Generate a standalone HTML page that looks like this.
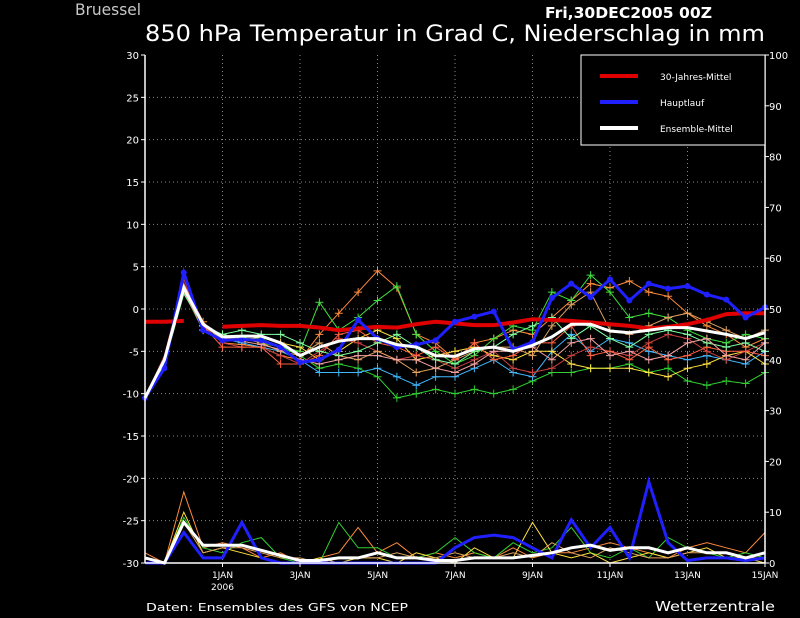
<!DOCTYPE html>
<html><head><meta charset="utf-8"><style>
html,body{margin:0;padding:0;background:#000;width:800px;height:618px;overflow:hidden}
svg{display:block}
text{font-family:"DejaVu Sans","Liberation Sans",sans-serif}
</style></head><body>
<svg id="c" width="800" height="618" xmlns="http://www.w3.org/2000/svg">
<text x="75" y="15" fill="#c8c8c8" font-size="16" textLength="66" lengthAdjust="spacingAndGlyphs">Bruessel</text>
<text x="545" y="18" fill="#fff" font-size="15" font-weight="bold" textLength="167" lengthAdjust="spacingAndGlyphs">Fri,30DEC2005 00Z</text>
<text x="145" y="41" fill="#fff" font-size="22" textLength="620" lengthAdjust="spacingAndGlyphs">850 hPa Temperatur in Grad C, Niederschlag in mm</text>
<text x="146" y="611" fill="#fff" font-size="11" textLength="262" lengthAdjust="spacingAndGlyphs">Daten: Ensembles des GFS von NCEP</text>
<text x="655" y="611" fill="#fff" font-size="13" textLength="120" lengthAdjust="spacingAndGlyphs">Wetterzentrale</text>
<g id="grid"></g><g id="series"></g><g id="axes"></g>
<g>
<rect x="581" y="55" width="184" height="90" fill="#000" stroke="#fff" stroke-width="1"/>
<line x1="600" y1="76" x2="638" y2="76" stroke="#e00000" stroke-width="4"/>
<text x="660" y="80" fill="#fff" font-size="9">30-Jahres-Mittel</text>
<line x1="600" y1="102" x2="638" y2="102" stroke="#2020ff" stroke-width="4"/>
<text x="660" y="106" fill="#fff" font-size="9">Hauptlauf</text>
<line x1="600" y1="128" x2="638" y2="128" stroke="#fff" stroke-width="4"/>
<text x="660" y="132" fill="#fff" font-size="9">Ensemble-Mittel</text>
</g>
</svg>
<script>
const tempTicks=[30,25,20,15,10,5,0,-5,-10,-15,-20,-25,-30];
const precipTicks=[0,10,20,30,40,50,60,70,80,90,100];
const dayLabels=["1JAN","3JAN","5JAN","7JAN","9JAN","11JAN","13JAN","15JAN"];
const climate=[-1.5,-1.5,-1.4,null,-2.1,-2.0,-1.9,-2.0,-2.0,-2.2,-2.5,-2.3,-2.1,-2.2,-1.8,-1.5,-1.7,-1.9,-1.9,-1.6,-1.2,-1.3,-1.4,-1.6,-1.8,-2.0,-2.3,-2.1,-1.8,-1.3,-0.6,-0.5,-0.5];
const mainRun=[-10.5,-7,4.3,-2.5,-3.7,-3.6,-3.7,-4.5,-6.3,-6,-4.8,-1.3,-3.5,-4.5,-4.2,-3.7,-1.5,-0.9,-0.3,-4.8,-3.9,1.3,3,1.4,3.5,1,3,2.4,2.7,1.7,1.1,-1,0.2];
const ensMean=[-10.5,-6,2.5,-1.8,-3.3,-3.2,-3.2,-4,-5.5,-4.5,-3.8,-3.5,-3.5,-4.2,-4.5,-5.5,-5.6,-4.7,-4.5,-5,-4.3,-3.3,-1.8,-1.8,-2.6,-2.8,-2.5,-2.2,-2.2,-2.6,-3.0,-3.5,-2.8];
const members=[
[-10.5,-6,3,-1.5,-4,-4.2,-4.5,-5.5,-6,-3,-0.5,2,4.5,2.5,-3,-4,-6,-4,-3.5,-2.5,-3,-1,1,3,2.5,3.3,2,1.5,-0.5,-2,-3,-4.5,-3.5],
[-10.5,-6,2.5,-2,-3,-3.5,-3.5,-4.5,-5,0.8,-2.5,-1,1,2.7,-3,-5,-6.5,-5.5,-3.5,-2,-2.5,2,1,4,2,-1,-0.5,-1,-2.5,-3.5,-4,-3,-3.5],
[-10.5,-6.5,2,-2.5,-3.5,-3.3,-4,-4.5,-5.5,-7,-6.5,-7,-8,-10.5,-10,-9.5,-10,-9.5,-10,-9.5,-8.5,-7.5,-7.5,-7,-7,-6.5,-7.5,-7,-8.5,-9,-8.5,-8.8,-7.5],
[-10.5,-6,2.8,-2,-3.5,-4,-4.5,-5,-6,-7.5,-7.5,-7.5,-7,-8,-9,-8,-8,-7,-6,-7.5,-8,-5,-3,-5,-3.5,-4,-5,-5.5,-6,-5.5,-6,-6.5,-5],
[-10.5,-6,2.3,-2,-3.3,-3.7,-3.3,-4,-4.5,-6,-5,-3.5,-2.5,-3.5,-6,-5.5,-5,-4.5,-5.5,-6,-5,-5,-6.5,-7,-7,-7,-7.5,-8,-7,-6.5,-5.5,-5,-6.5],
[-10.5,-5.5,3.5,-2,-4,-4.5,-4.5,-5.5,-6.5,-5,-3.5,-4,-5,-6,-5.5,-6,-7,-6,-5,-7,-7.5,-7,-5.5,-4.5,-5,-5.5,-4,-3,-3.5,-5,-6,-5,-4],
[-10.5,-6,2,-2,-3.5,-3.5,-4,-5,-5.5,-4,-5.5,-6,-5,-6,-7.5,-7,-6,-5,-4.5,-4.5,-5.5,-2,0.5,2,-2.5,-3,-2,-1,-0.5,-1.5,-2.5,-3.5,-2.5],
[-10.5,-6,2.6,-2,-4.5,-4.5,-4.5,-6.5,-6.5,-5.5,-3,-2.5,-4,-4.5,-5.5,-4.5,-6,-4,-6,-5.5,-4,-4,-2,-5.5,-5,-6,-4.5,-6,-5.5,-4.5,-5,-5,-5.5],
[-10.5,-6.5,1.8,-2,-3,-2.5,-3,-3,-4,-5,-5.5,-5,-4,-3,-4.5,-6,-6.5,-5,-4.5,-3,-2,-1,-3.5,-2,-3.5,-4.5,-3,-2.5,-3,-4,-4.5,-4,-5],
[-10.5,-6,2.2,-2.5,-3.5,-3.8,-4.2,-4.8,-6,-6.5,-6,-5.5,-5.5,-6,-6,-7,-7.5,-6.5,-5,-5,-4.5,-6,-4,-3.5,-5.5,-5,-6,-5.5,-4,-3.5,-5.5,-6,-4]];
const memberColors=["#ff8c3c","#40e040","#30d030","#40b8ff","#ffe040","#c84040","#e0a060","#ff6040","#80ffa0","#f0a0a0"];
const mainPrecip=[0,0,6,1,1,8,1,0,0,0,0,0,0,0,0,0,3,5,5.5,5,3,1,8.5,3,7,1,16,4,0.5,1,1,0.5,1];
const meanPrecip=[1,0,8,3.5,3.5,3.5,2.5,1.5,0.5,0.5,1,1,2,1,1,0.5,0.5,1,1,1,1.5,2,3,3.5,2.5,3,3,2,3,2,2,1,2];
const memberPrecip=[
[2,0,14,3,4,3,1,2,0,1,2,7,2,4,1,2,1,2,1,3,1,2,2,3,4,3,2,1,3,4,3,2,6],
[0,0,9,3,2,4,5,1,0,0,8,3,3,1,1,2,5,2,1,4,2,3,7,2,1,3,1,5,3,2,1,2,1],
[1,0,10,2,3,2,1,0,0,1,0,1,1,0,2,1,0,3,1,1,8,2,1,2,0,1,2,1,2,3,1,1,0],
[0,0,8,2,3,3,2,1,1,0,1,1,1,2,1,1,2,1,1,2,1,4,2,1,3,2,1,1,2,2,2,1,1]];
const X0=145,X1=765,Y0=55,Y1=563,N=32;
const xs=i=>X0+(X1-X0)*i/N;
const yT=v=>Y1-(v+30)/60*(Y1-Y0);
const yP=v=>Y1-v/100*(Y1-Y0);
const NS="http://www.w3.org/2000/svg";
function mk(p,tag,attrs){const e=document.createElementNS(NS,tag);for(const k in attrs)e.setAttribute(k,attrs[k]);p.appendChild(e);return e;}
const grid=document.getElementById('grid'),ser=document.getElementById('series'),ax=document.getElementById('axes');
tempTicks.forEach(t=>{const y=yT(t);
 if(t>-30&&t<30){const l=mk(grid,'line',{x1:X0,x2:X1,y1:y,y2:y,stroke:'#888','stroke-dasharray':'1,3'});}
 const tx=mk(ax,'text',{x:139,y:y+4,fill:'#fff','font-size':10,'text-anchor':'end'});tx.textContent=t;
 
 mk(ax,'line',{x1:X0-4,x2:X0,y1:y,y2:y,stroke:'#fff'});});
precipTicks.forEach(t=>{const y=yP(t);
 const tx=mk(ax,'text',{x:769,y:y+4,fill:'#fff','font-size':10});tx.textContent=t;
 
 mk(ax,'line',{x1:X1,x2:X1+4,y1:y,y2:y,stroke:'#fff'});});
dayLabels.forEach((d,k)=>{const x=xs(4+k*4);
 if(x<X1){const l=mk(grid,'line',{x1:x,x2:x,y1:Y0,y2:Y1,stroke:'#888','stroke-dasharray':'1,3'});}
 const tx=mk(ax,'text',{x:x,y:578,fill:'#fff','font-size':9,'text-anchor':'middle'});tx.textContent=d;
 
 mk(ax,'line',{x1:x,x2:x,y1:Y1,y2:Y1+4,stroke:'#fff'});});
const yr=mk(ax,'text',{x:xs(4),y:590,fill:'#fff','font-size':9,'text-anchor':'middle'});yr.textContent='2006';


[[X0,Y0,X0,Y1],[X1,Y0,X1,Y1],[X0,Y1,X1,Y1]].forEach(a=>mk(ax,'line',{x1:a[0],y1:a[1],x2:a[2],y2:a[3],stroke:'#fff','stroke-width':1.5}));
function path(arr,yf){let d='',pen=false;arr.forEach((v,i)=>{if(v===null){pen=false;return;}d+=(pen?'L':'M')+xs(i).toFixed(1)+','+yf(v).toFixed(1);pen=true;});return d;}
memberPrecip.forEach((m,k)=>{const p=mk(ser,'path',{d:path(m,yP),fill:'none',stroke:memberColors[k*2],'stroke-width':1});
 });
let p=mk(ser,'path',{d:path(mainPrecip,yP),fill:'none',stroke:'#2020ff','stroke-width':3});

p=mk(ser,'path',{d:path(meanPrecip,yP),fill:'none',stroke:'#fff','stroke-width':3});

members.forEach((m,k)=>{const c=memberColors[k];
 const l=mk(ser,'path',{d:path(m,yT),fill:'none',stroke:c,'stroke-width':1});
 
 let d='';m.forEach((v,i)=>{if(i<3)return;const x=xs(i),y=yT(v);d+=`M${x-4},${y}h8M${x},${y-4}v8`;});
 const mm=mk(ser,'path',{d:d,stroke:c,'stroke-width':1});
 });
p=mk(ser,'path',{d:path(climate,yT),fill:'none',stroke:'#e00000','stroke-width':4});

p=mk(ser,'path',{d:path(mainRun,yT),fill:'none',stroke:'#2020ff','stroke-width':3});

mainRun.forEach((v,i)=>{const c=mk(ser,'circle',{cx:xs(i),cy:yT(v),r:3,fill:'#2020ff'});
 });
p=mk(ser,'path',{d:path(ensMean,yT),fill:'none',stroke:'#fff','stroke-width':3});

</script>
</body></html>
